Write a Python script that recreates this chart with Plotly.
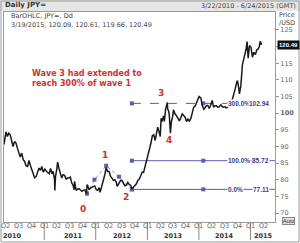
import plotly.graph_objects as go

# ---------------- data ----------------
dates = [
    "2010-03-22", "2010-03-31", "2010-04-05", "2010-04-15", "2010-04-25",
    "2010-05-05", "2010-05-15", "2010-05-25", "2010-06-05", "2010-06-15", "2010-06-25",
    "2010-07-05", "2010-07-15", "2010-07-25", "2010-08-05", "2010-08-15", "2010-08-25",
    "2010-09-05", "2010-09-15", "2010-09-25", "2010-10-05", "2010-10-15", "2010-10-25",
    "2010-11-05", "2010-11-15", "2010-11-25", "2010-12-05", "2010-12-15", "2010-12-25",
    "2011-01-05", "2011-01-15", "2011-01-25", "2011-02-05", "2011-02-15", "2011-02-25",
    "2011-03-05", "2011-03-15", "2011-03-17", "2011-03-22", "2011-03-31",
    "2011-04-06", "2011-04-15", "2011-04-25", "2011-05-05", "2011-05-15", "2011-05-25",
    "2011-06-05", "2011-06-15", "2011-06-25", "2011-07-05", "2011-07-15", "2011-07-25",
    "2011-08-01", "2011-08-04", "2011-08-15", "2011-08-25",
    "2011-09-05", "2011-09-15", "2011-09-25", "2011-10-05", "2011-10-15", "2011-10-28", "2011-10-31",
    "2011-11-05", "2011-11-15", "2011-11-25", "2011-12-05", "2011-12-15", "2011-12-25",
    "2012-01-05", "2012-01-15", "2012-01-25", "2012-02-01", "2012-02-10", "2012-02-20", "2012-02-28",
    "2012-03-05", "2012-03-15", "2012-03-25", "2012-04-05", "2012-04-15", "2012-04-25",
    "2012-05-05", "2012-05-15", "2012-05-25", "2012-06-01", "2012-06-15", "2012-06-25",
    "2012-07-05", "2012-07-15", "2012-07-25", "2012-08-05", "2012-08-15", "2012-08-25",
    "2012-09-05", "2012-09-13", "2012-09-25", "2012-10-05", "2012-10-15", "2012-10-25",
    "2012-11-05", "2012-11-15", "2012-11-25", "2012-12-05", "2012-12-15", "2012-12-25",
    "2013-01-05", "2013-01-15", "2013-01-25", "2013-02-05", "2013-02-15", "2013-02-25",
    "2013-03-05", "2013-03-15", "2013-03-25", "2013-04-02", "2013-04-08", "2013-04-15", "2013-04-25",
    "2013-05-01", "2013-05-10", "2013-05-22", "2013-05-25", "2013-06-01", "2013-06-05", "2013-06-13",
    "2013-06-20", "2013-06-28", "2013-07-05", "2013-07-15", "2013-07-25",
    "2013-08-05", "2013-08-15", "2013-08-25", "2013-09-05", "2013-09-15", "2013-09-25",
    "2013-10-05", "2013-10-15", "2013-10-25", "2013-11-05", "2013-11-15", "2013-11-25",
    "2013-12-05", "2013-12-15", "2013-12-25", "2014-01-02", "2014-01-15", "2014-01-25",
    "2014-02-05", "2014-02-15", "2014-02-25", "2014-03-05", "2014-03-15", "2014-03-25",
    "2014-04-05", "2014-04-15", "2014-04-25", "2014-05-05", "2014-05-15", "2014-05-25",
    "2014-06-05", "2014-06-15", "2014-06-25", "2014-07-05", "2014-07-15", "2014-07-25",
    "2014-08-05", "2014-08-15", "2014-08-25", "2014-09-05", "2014-09-15", "2014-09-25",
    "2014-10-01", "2014-10-10", "2014-10-15", "2014-10-25", "2014-10-31",
    "2014-11-05", "2014-11-15", "2014-11-25", "2014-12-01", "2014-12-08", "2014-12-16", "2014-12-25",
    "2015-01-05", "2015-01-15", "2015-01-25", "2015-02-05", "2015-02-15", "2015-02-25",
    "2015-03-05", "2015-03-10", "2015-03-16", "2015-03-19",
]
closes = [
    90.6, 93.3, 94.4, 93.0, 94.0,
    93.5, 92.0, 90.0, 91.5, 91.0, 89.5,
    87.8, 86.8, 88.0, 86.0, 85.5, 84.2,
    84.0, 85.8, 84.3, 83.0, 81.3, 80.6,
    81.0, 82.5, 83.5, 82.8, 84.0, 82.3,
    83.2, 82.6, 82.2, 81.8, 83.4, 81.8,
    82.5, 80.0, 76.8, 81.0, 83.2,
    85.3, 83.5, 81.8, 80.5, 81.5, 81.3,
    80.2, 80.5, 80.5, 80.8, 79.0, 78.3,
    77.0, 79.5, 76.8, 77.2,
    77.3, 76.8, 76.5, 76.8, 77.0, 75.8, 78.5,
    78.2, 77.0, 77.5, 77.8, 78.0, 78.1,
    77.0, 76.8, 77.6, 76.2, 77.5, 79.5, 80.5,
    81.5, 83.7, 82.5, 82.5, 81.0, 80.5,
    79.8, 80.0, 79.3, 78.0, 79.0, 79.8,
    79.7, 78.7, 78.2, 78.4, 79.2, 78.6,
    78.3, 77.2, 77.8, 78.5, 78.8, 79.8,
    80.2, 81.2, 82.3, 82.2, 83.8, 85.0,
    87.5, 88.5, 90.8, 93.2, 93.5, 91.8,
    93.8, 95.8, 94.3, 93.0, 98.5, 97.5, 99.2,
    97.5, 101.2, 103.2, 101.2, 100.5, 99.5, 94.0,
    97.5, 98.8, 101.0, 99.8, 99.3,
    98.6, 97.7, 98.6, 99.8, 99.3, 98.8,
    97.5, 98.2, 97.6, 98.4, 100.1, 101.8,
    102.1, 103.2, 104.3, 105.0, 104.5, 102.3,
    101.2, 101.8, 102.3, 102.3, 101.4, 102.4,
    103.8, 101.8, 102.2, 102.2, 101.8, 101.9,
    102.5, 102.0, 101.8, 101.9, 101.6, 101.8,
    102.6, 102.5, 104.0, 105.2, 107.3, 109.2,
    109.8, 107.6, 105.8, 108.2, 112.3,
    114.5, 116.4, 118.0, 119.2, 121.5, 116.5, 120.3,
    119.8, 116.8, 118.3, 117.6, 119.0, 119.3,
    120.0, 121.5, 121.3, 120.49,
]

# Fibonacci extension tool
fib_anchor_dates = ["2011-10-31", "2011-12-23", "2012-03-15", "2012-06-14", "2012-09-13"]
fib_anchor_vals = [75.8, 80.0, 84.2, 80.9, 77.11]
fib_pcts = ["300.0%", "100.0%", "0.0%"]
fib_levels = [102.94, 85.72, 77.11]
fib_start = "2012-09-13"
fib_mid = "2014-02-01"
fib_end = "2015-06-24"

wave_labels = ["0", "1", "2", "3", "4"]
wave_dates = ["2011-10-01", "2012-03-05", "2012-08-03", "2013-04-09", "2013-06-03"]
wave_vals = [71.2, 87.5, 74.9, 106.1, 92.0]

y_ticks = [70, 75, 80, 85, 90, 95, 100, 105, 110, 115, 120, 125]
q_dates = []
q_text = []
for yr in range(2010, 2016):
    for q, m in zip(["Q1", "Q2", "Q3", "Q4"], ["01", "04", "07", "10"]):
        d = f"{yr}-{m}-01"
        if "2010-04-01" <= d <= "2015-04-01":
            q_dates.append(d)
            q_text.append(q)
year_labels = ["2010", "2011", "2012", "2013", "2014", "2015"]
year_label_dates = ["2010-05-20", "2011-07-24", "2012-07-03", "2013-07-01", "2014-07-01", "2015-04-01"]
year_sep_dates = ["2011-01-01", "2012-01-01", "2013-01-01", "2014-01-01", "2015-01-01"]

last_price = 120.49
X_RANGE = ["2010-03-22", "2015-06-24"]
Y_RANGE = [67.3, 130.4]

FIB = "#5a5db3"
FIBTXT = "#3b3d8f"
RED = "#d0312d"
GRAY = "#666666"
NARROW = "Liberation Sans"

fig = go.Figure()

# fib anchor path
fig.add_trace(go.Scatter(x=fib_anchor_dates, y=fib_anchor_vals, mode="lines+markers",
                         line=dict(color=FIB, width=0.7, dash="dot"),
                         marker=dict(symbol="square", size=4, color=FIB),
                         hoverinfo="skip", showlegend=False))
# fib levels
for pct, lvl in zip(fib_pcts, fib_levels):
    fig.add_trace(go.Scatter(x=[fib_start, fib_end], y=[lvl, lvl], mode="lines",
                             line=dict(color=FIB, width=1, dash="dash" if pct == "300.0%" else "solid"),
                             hoverinfo="skip", showlegend=False))
    fig.add_trace(go.Scatter(x=[fib_start, fib_mid], y=[lvl, lvl], mode="markers",
                             marker=dict(symbol="square", size=4, color=FIB),
                             hoverinfo="skip", showlegend=False))

# price
fig.add_trace(go.Scatter(x=dates, y=closes, mode="lines",
                         line=dict(color="#1a1a1a", width=1.5),
                         showlegend=False))

ann = []
L, R, T, B = 4, 275, 12, 222
PW, PH = R - L, B - T


def px(x):
    return (x - L) / PW


def py(y):
    return (B - y) / PH


for pct, lvl in zip(fib_pcts, fib_levels):
    ann.append(dict(x=px(227), xref="paper", y=lvl, yref="y", text=f"<b>{pct}</b>",
                    xanchor="left", yanchor="middle", showarrow=False, bgcolor="white",
                    borderpad=0, font=dict(size=6.5, color=FIBTXT, family=NARROW)))
    ann.append(dict(x=px(270), xref="paper", y=lvl, yref="y", text=f"<b>{lvl:.2f}</b>",
                    xanchor="right", yanchor="middle", showarrow=False, bgcolor="white",
                    borderpad=0, font=dict(size=6.5, color=FIBTXT, family=NARROW)))

for t, d, v in zip(wave_labels, wave_dates, wave_vals):
    ann.append(dict(x=d, y=v, xref="x", yref="y", text=f"<b>{t}</b>", showarrow=False,
                    font=dict(size=9, color=RED, family="DejaVu Sans")))

ann.append(dict(x=px(30), y=py(78), xref="paper", yref="paper",
                text="<b>Wave 3 had extended to<br>reach 300% of wave 1</b>",
                align="left", xanchor="left", yanchor="middle", showarrow=False,
                font=dict(size=8, color=RED, family="DejaVu Sans")))

# header texts
ann.append(dict(x=px(3), y=py(5), xref="paper", yref="paper", text="<b>Daily JPY=</b>",
                xanchor="left", yanchor="middle", showarrow=False, font=dict(size=7, color="#333")))
ann.append(dict(x=px(298), y=py(6), xref="paper", yref="paper", text="3/22/2010 - 6/24/2015 (GMT)",
                xanchor="right", yanchor="middle", showarrow=False, font=dict(size=6.5, color="#444")))
ann.append(dict(x=px(9), y=py(16), xref="paper", yref="paper", text="BarOHLC, JPY=, Dd",
                xanchor="left", yanchor="middle", showarrow=False, font=dict(size=6.5, color="#444")))
ann.append(dict(x=px(9), y=py(25), xref="paper", yref="paper",
                text="3/19/2015, 120.09, 120.61, 119.66, 120.49",
                xanchor="left", yanchor="middle", showarrow=False, font=dict(size=6.5, color="#444")))
ann.append(dict(x=px(277), y=py(19), xref="paper", yref="paper", text="Price<br>/USD",
                xanchor="left", yanchor="middle", align="left", showarrow=False,
                font=dict(size=6.5, color="#444")))
# last price box
ann.append(dict(x=px(277), y=last_price, xref="paper", yref="y", text=f"<b>{last_price:.2f}</b>",
                xanchor="left", yanchor="middle", showarrow=False, bgcolor="#111111",
                borderpad=1, font=dict(size=6, color="white", family=NARROW)))
# auto button
ann.append(dict(x=px(288), y=py(221), xref="paper", yref="paper", text="Auto",
                xanchor="center", yanchor="middle", showarrow=False, bgcolor="#dddddd",
                bordercolor="#888", borderwidth=1, borderpad=0,
                font=dict(size=5.5, color="#333", family=NARROW)))
# quarter labels
for t, d in zip(q_text, q_dates):
    ann.append(dict(x=d, y=py(226), xref="x", yref="paper", text=t,
                    xanchor="center", yanchor="middle", showarrow=False,
                    font=dict(size=6.5, color=GRAY)))
# year labels
for t, d in zip(year_labels, year_label_dates):
    ann.append(dict(x=d, y=py(236), xref="x", yref="paper", text=f"<b>{t}</b>",
                    xanchor="center", yanchor="middle", showarrow=False,
                    font=dict(size=6.5, color="#333")))

shapes = []
# title bar
shapes.append(dict(type="rect", xref="paper", yref="paper", x0=px(0), x1=px(300), y0=py(11), y1=py(0),
                   fillcolor="#e6e6e6", line=dict(width=0), layer="below"))
# outer frame
shapes.append(dict(type="rect", xref="paper", yref="paper", x0=px(1), x1=px(299), y0=py(242), y1=py(1),
                   fillcolor="rgba(0,0,0,0)", line=dict(color="#9a9a9a", width=1)))
for d in year_sep_dates:
    shapes.append(dict(type="line", xref="x", yref="paper", x0=d, x1=d, y0=0, y1=py(240),
                       line=dict(color="#888", width=1)))


def tick_label(v):
    if v == 100:
        return f"<b>{v}</b>"
    if v == 120:  # hidden behind the last-price box
        return ""
    return str(v)


fig.update_layout(
    width=300, height=243,
    margin=dict(l=L, r=300 - R, t=T, b=243 - B),
    paper_bgcolor="white", plot_bgcolor="white",
    font=dict(family="DejaVu Sans", size=7, color=GRAY),
    annotations=ann, shapes=shapes,
    xaxis=dict(range=X_RANGE, type="date", showticklabels=False,
               showgrid=False, zeroline=False, showline=True, linecolor="#999", mirror=True,
               ticks=""),
    yaxis=dict(range=Y_RANGE, side="right", tickvals=y_ticks,
               ticktext=[tick_label(v) for v in y_ticks],
               showgrid=False, zeroline=False, showline=True, linecolor="#999", mirror=True,
               ticks="outside", ticklen=3, tickcolor="#999", tickfont=dict(size=6.5, color=GRAY)),
)

fig.write_html("out.html")
